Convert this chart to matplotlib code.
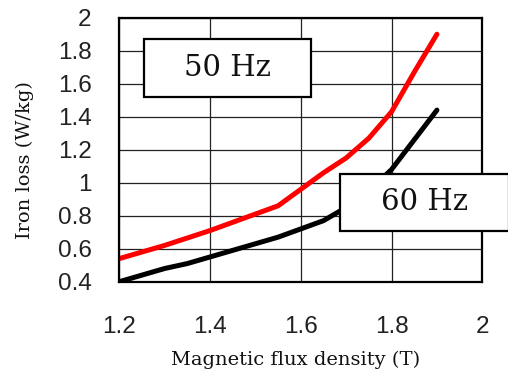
import matplotlib
matplotlib.use("Agg")
import matplotlib.pyplot as plt
from matplotlib.patches import Rectangle

# Data
b_50 = [1.20, 1.30, 1.40, 1.50, 1.55, 1.60, 1.65, 1.70, 1.75, 1.80, 1.85, 1.90]
loss_50 = [0.54, 0.62, 0.71, 0.81, 0.86, 0.96, 1.06, 1.15, 1.27, 1.43, 1.67, 1.90]
b_60 = [1.20, 1.25, 1.30, 1.35, 1.40, 1.50, 1.55, 1.60, 1.65, 1.70, 1.75, 1.80, 1.85, 1.90]
loss_60 = [0.40, 0.44, 0.48, 0.51, 0.55, 0.63, 0.67, 0.72, 0.77, 0.85, 0.95, 1.08, 1.26, 1.44]
x_ticks = [1.2, 1.4, 1.6, 1.8, 2.0]
x_tick_labels = ["1.2", "1.4", "1.6", "1.8", "2"]
y_ticks = [0.4, 0.6, 0.8, 1.0, 1.2, 1.4, 1.6, 1.8, 2.0]
y_tick_labels = ["0.4", "0.6", "0.8", "1", "1.2", "1.4", "1.6", "1.8", "2"]
label_50 = "50 Hz"
label_60 = "60 Hz"
x_label = "Magnetic flux density (T)"
y_label = "Iron loss (W/kg)"

W, H = 508, 374
fig = plt.figure(figsize=(W / 100, H / 100), dpi=100)
ax = fig.add_axes([119.3 / W, 1 - 281.7 / H, (482.3 - 119.3) / W, (281.7 - 17.7) / H])

ax.plot(b_50, loss_50, color="#ff0000", lw=3.6, solid_capstyle="round",
        solid_joinstyle="round", zorder=3)
ax.plot(b_60, loss_60, color="#000000", lw=3.6, solid_capstyle="round",
        solid_joinstyle="round", zorder=3)

ax.set_xlim(1.2, 2.0)
ax.set_ylim(0.4, 2.0)
ax.set_xticks(x_ticks)
ax.set_xticklabels(x_tick_labels)
ax.set_yticks(y_ticks)
ax.set_yticklabels(y_tick_labels)
ax.grid(True, color="#222222", lw=0.9)
ax.set_axisbelow(True)
for s in ax.spines.values():
    s.set_linewidth(1.6)
    s.set_color("black")
    s.set_zorder(4)
ax.tick_params(length=0, labelsize=17.5, colors="#222222")
ax.tick_params(axis="y", pad=20)
ax.tick_params(axis="x", pad=25)
for t in ax.get_xticklabels() + ax.get_yticklabels():
    t.set_fontfamily("Liberation Sans")

fig.text(295.7 / W, 1 - 360.3 / H, x_label, ha="center", va="center",
         fontsize=14, family="DejaVu Serif", color="#111111")
fig.text(25 / W, 1 - 160 / H, y_label, ha="center", va="center", rotation=90,
         fontsize=14, family="DejaVu Serif", color="#111111")

def box(x0, y0, x1, y1, text):
    r = Rectangle((x0 / W, 1 - y1 / H), (x1 - x0) / W, (y1 - y0) / H,
                  transform=fig.transFigure, facecolor="white", edgecolor="black",
                  lw=1.6, zorder=10, clip_on=False)
    fig.add_artist(r)
    fig.text((x0 + x1) / 2 / W, 1 - (y0 + y1) / 2 / H, text, ha="center", va="center",
             fontsize=21, family="DejaVu Serif", color="#111111", zorder=11)

box(144.3, 39, 310.7, 97.3, label_50)
box(340, 174, 509, 230.7, label_60)

fig.savefig("out.png", dpi=100)
